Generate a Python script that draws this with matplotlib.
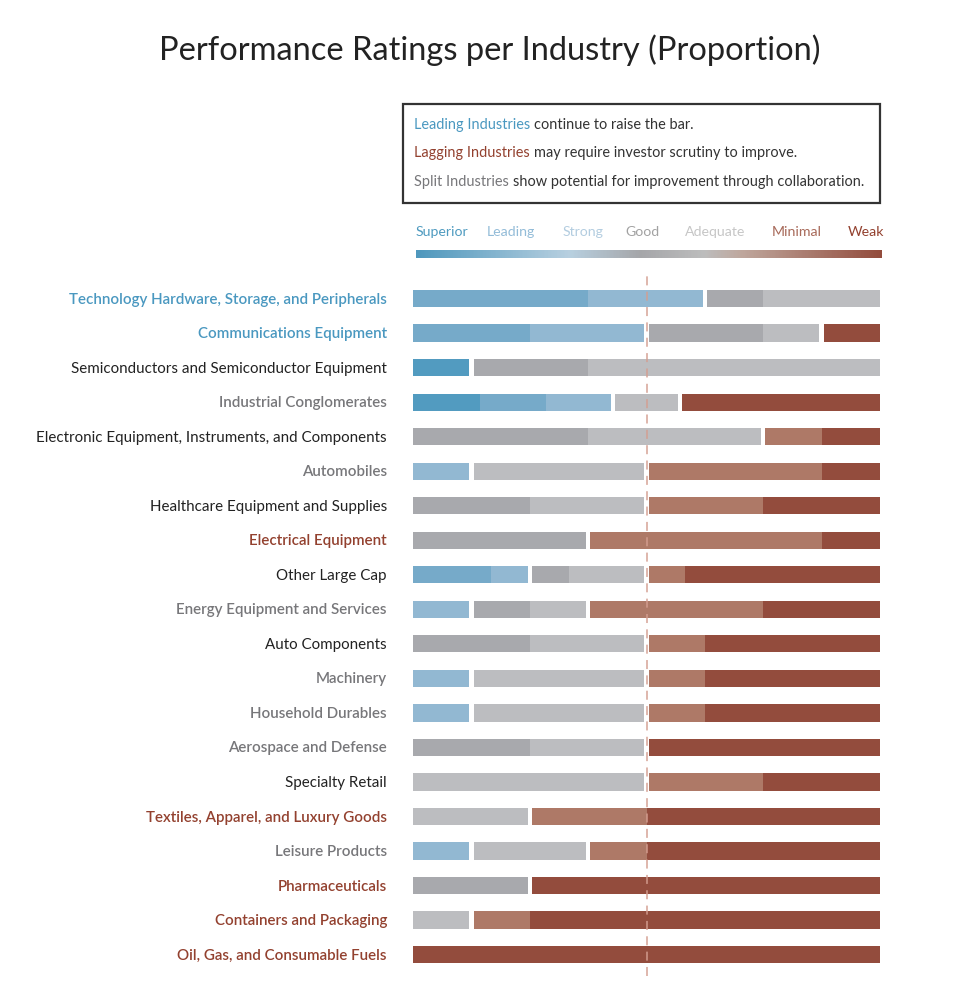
import matplotlib
matplotlib.use('Agg')
import matplotlib.pyplot as plt
import numpy as np
from matplotlib.colors import LinearSegmentedColormap
from matplotlib.patches import Rectangle
import matplotlib.transforms as mtransforms

FONT = 'Lato'

industries = [
    "Technology Hardware, Storage, and Peripherals",
    "Communications Equipment",
    "Semiconductors and Semiconductor Equipment",
    "Industrial Conglomerates",
    "Electronic Equipment, Instruments, and Components",
    "Automobiles",
    "Healthcare Equipment and Supplies",
    "Electrical Equipment",
    "Other Large Cap",
    "Energy Equipment and Services",
    "Auto Components",
    "Machinery",
    "Household Durables",
    "Aerospace and Defense",
    "Specialty Retail",
    "Textiles, Apparel, and Luxury Goods",
    "Leisure Products",
    "Pharmaceuticals",
    "Containers and Packaging",
    "Oil, Gas, and Consumable Fuels",
]
# label class: lead / lag / split / none
label_class = ["lead", "lead", "none", "split", "none", "split", "none", "lag",
               "none", "split", "none", "split", "split", "split", "none", "lag",
               "split", "lag", "lag", "lag"]

ratings = ["Superior", "Leading", "Strong", "Good", "Adequate", "Minimal", "Weak"]
superior = [0, 0, 1, 1, 0, 0, 0, 0, 0, 0, 0, 0, 0, 0, 0, 0, 0, 0, 0, 0]
leading  = [3, 2, 0, 1, 0, 0, 0, 0, 2, 0, 0, 0, 0, 0, 0, 0, 0, 0, 0, 0]
strong   = [2, 2, 0, 1, 0, 1, 0, 0, 1, 1, 0, 1, 1, 0, 0, 0, 1, 0, 0, 0]
good     = [1, 2, 2, 0, 3, 0, 2, 3, 1, 1, 2, 0, 0, 2, 0, 0, 0, 2, 0, 0]
adequate = [2, 1, 5, 1, 3, 3, 2, 0, 2, 1, 2, 3, 3, 2, 4, 2, 2, 0, 1, 0]
minimal  = [0, 0, 0, 0, 1, 3, 2, 4, 1, 3, 1, 1, 1, 0, 2, 2, 1, 0, 1, 0]
weak     = [0, 1, 0, 3, 1, 1, 2, 1, 5, 2, 3, 3, 3, 4, 2, 4, 4, 6, 6, 8]

bar_colors = ["#529bc0", "#76aac9", "#92b8d2", "#a8a9ad", "#bcbdc0", "#ae7967", "#934c3d"]
rating_group = [0, 0, 0, 1, 1, 2, 2]
scale_label_colors = ["#4f9bc0", "#93bcd8", "#b3cde0", "#a2a2a2", "#c6c6c6", "#a86a5a", "#93412f"]
scale_label_px = [442, 511, 583, 642, 715, 797, 866]

label_colors = {"lead": "#4a98c0", "lag": "#93412f", "split": "#77777a", "none": "#222222"}
label_weights = {"lead": "semibold", "lag": "semibold", "split": "semibold", "none": "normal"}

W, H = 980, 996
fig = plt.figure(figsize=(W / 100, H / 100), dpi=100)
fig.patch.set_facecolor("white")


def fx(px):
    return px / W


def fy(py):
    return 1 - py / H


# Title
fig.text(fx(490), fy(50), "Performance Ratings per Industry (Proportion)",
         ha="center", va="center", fontsize=23.5, family=FONT, weight="normal", color="#222222")

# Legend box
fig.add_artist(Rectangle((fx(403), fy(203)), fx(880) - fx(403), (203 - 104) / H,
                         transform=fig.transFigure, fill=False, edgecolor="#333333", linewidth=1.6))
renderer = fig.canvas.get_renderer()
box_lines = [
    ("Leading Industries", "#4a98c0", "continue to raise the bar.", 125),
    ("Lagging Industries", "#93412f", "may require investor scrutiny to improve.", 153),
    ("Split Industries", "#77777a", "show potential for improvement through collaboration.", 182),
]
for head, col, rest, ypx in box_lines:
    t = fig.text(fx(414), fy(ypx), head, ha="left", va="center", fontsize=10.45,
                 family=FONT, color=col)
    bb = t.get_window_extent(renderer=renderer)
    fig.text(bb.x1 / fig.dpi / fig.get_figwidth() + fx(3.8), fy(ypx), rest, ha="left",
             va="center", fontsize=10.45, family=FONT, color="#333333")

# Rating scale labels
for lab, col, px in zip(ratings, scale_label_colors, scale_label_px):
    fig.text(fx(px), fy(232), lab, ha="center", va="center", fontsize=10.2,
             family=FONT, color=col)

# Gradient bar
cmap = LinearSegmentedColormap.from_list("scale", [
    (0.0, "#4f98bd"), (0.33, "#b8d0e0"), (0.48, "#a5a6a9"),
    (0.62, "#bdbdbd"), (0.70, "#bfa79d"), (1.0, "#934c3d")])
axg = fig.add_axes([fx(416), fy(258), fx(881) - fx(416), 8 / H])
axg.imshow(np.linspace(0, 1, 400)[None, :], aspect="auto", cmap=cmap,
           extent=[0, 1, 0, 1])
axg.axis("off")

# Main bars
ax = fig.add_axes([fx(413), fy(976), fx(880) - fx(413), (976 - 273) / H])
counts = np.array([superior, leading, strong, good, adequate, minimal, weak], dtype=float).T
props = counts / counts.sum(axis=1, keepdims=True)
gap = 0.0048
for i, row in enumerate(props):
    nz = [k for k in range(7) if row[k] > 0]
    left = 0.0
    for j, k in enumerate(nz):
        w = row[k]
        l, r = left, left + w
        if j > 0 and rating_group[nz[j - 1]] != rating_group[k]:
            l += gap
        if j < len(nz) - 1 and rating_group[nz[j + 1]] != rating_group[k]:
            r -= gap
        ax.barh(i, r - l, left=l, height=0.5, color=bar_colors[k], linewidth=0)
        left += w

ax.set_xlim(0, 1)
ax.set_ylim(19.62, -0.74)
ax.axvline(0.5, color="#d49e90", ls=(0, (5, 3.5)), lw=1.3, alpha=0.8, zorder=5)
ax.axis("off")

trans = mtransforms.blended_transform_factory(ax.transAxes, ax.transData)
for i, (name, cls) in enumerate(zip(industries, label_class)):
    ax.text(-0.0557, i + 0.03, name, transform=trans, ha="right", va="center",
            fontsize=10.9, family=FONT, color=label_colors[cls],
            weight=label_weights[cls])

fig.savefig("out.png", dpi=100, facecolor="white")
